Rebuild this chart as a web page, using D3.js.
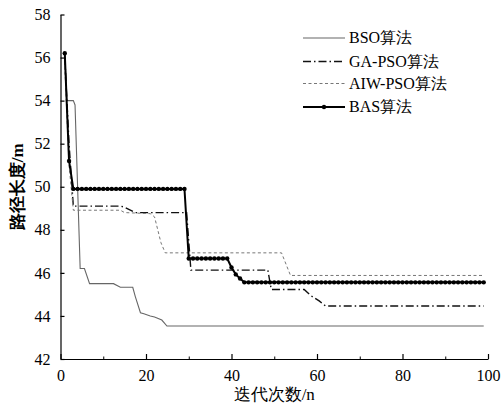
<!DOCTYPE html>
<html>
<head>
<meta charset="utf-8">
<script src="https://cdn.jsdelivr.net/npm/d3@7"></script>
<style>
  body { margin: 0; background: #fff; }
  svg text { font-family: "Liberation Serif", "DejaVu Serif", serif; }
</style>
</head>
<body>
<div id="chart"></div>
<script>
// data (iteration, path length)
let bsoPts = [[1,56.2],[1.5,54.0],[3,54.0],[3.4,53.8],[4.6,46.2],[5.6,46.2],[6.8,45.5],[12.4,45.5],[14,45.33],[16.9,45.33],[17.5,44.9],[18.7,44.15],[19.5,44.1],[21,44.0],[22,43.95],[23.7,43.81],[24.9,43.53],[99,43.53]]
let gaPts = [[1,56.0],[2,52.0],[3,49.1],[14,49.1],[15,49.05],[17.5,48.8],[29.5,48.8],[30.5,46.13],[48.5,46.13],[49.3,45.23],[57,45.23],[58.5,44.95],[60.5,44.7],[62,44.46],[99,44.46]]
let aiwPts = [[1,55.6],[2,51.0],[3,48.91],[14,48.91],[15,48.8],[21,48.75],[22,48.6],[23.5,47.4],[24.5,46.93],[51.7,46.93],[53.8,45.88],[99,45.88]]
let basVals = [56.2, 51.2,
  49.9, 49.9, 49.9, 49.9, 49.9, 49.9, 49.9, 49.9, 49.9, 49.9, 49.9, 49.9, 49.9, 49.9,
  49.9, 49.9, 49.9, 49.9, 49.9, 49.9, 49.9, 49.9, 49.9, 49.9, 49.9, 49.9, 49.9,
  46.67, 46.67, 46.67, 46.67, 46.67, 46.67, 46.67, 46.67, 46.67, 46.67,
  46.25, 45.93, 45.74,
  45.56, 45.56, 45.56, 45.56, 45.56, 45.56, 45.56, 45.56, 45.56, 45.56,
  45.56, 45.56, 45.56, 45.56, 45.56, 45.56, 45.56, 45.56, 45.56, 45.56,
  45.56, 45.56, 45.56, 45.56, 45.56, 45.56, 45.56, 45.56, 45.56, 45.56,
  45.56, 45.56, 45.56, 45.56, 45.56, 45.56, 45.56, 45.56, 45.56, 45.56,
  45.56, 45.56, 45.56, 45.56, 45.56, 45.56, 45.56, 45.56, 45.56, 45.56,
  45.56, 45.56, 45.56, 45.56, 45.56, 45.56, 45.56]
let seriesNames = ["BSO算法", "GA-PSO算法", "AIW-PSO算法", "BAS算法"]
let xTicks = [0, 20, 40, 60, 80, 100]
let xMinor = [10, 30, 50, 70, 90]
let yTicks = [42, 44, 46, 48, 50, 52, 54, 56, 58]

let width = 501
let height = 405
let margin = {top: 14.5, bottom: 46, left: 60.5, right: 13}

let svg = d3.select("#chart").append("svg")
    .attr("width", width)
    .attr("height", height)

let xScale = d3.scaleLinear().domain([0, 100]).range([margin.left, width - margin.right])
let yScale = d3.scaleLinear().domain([42, 58]).range([height - margin.bottom, margin.top])

let basPts = basVals.map((v, i) => [i + 1, v])

let styles = [
    {pts: bsoPts, color: "#666", w: 1.1, dash: null},
    {pts: gaPts, color: "#111", w: 1.4, dash: "8,3,1.5,3"},
    {pts: aiwPts, color: "#777", w: 1, dash: "3,2.5"},
    {pts: basPts, color: "#000", w: 2, dash: null}
]

let line = d3.line().x(d => xScale(d[0])).y(d => yScale(d[1]))

styles.forEach(s => {
    svg.append("path")
        .datum(s.pts)
        .attr("d", line)
        .attr("fill", "none")
        .attr("stroke", s.color)
        .attr("stroke-width", s.w)
        .attr("stroke-dasharray", s.dash)
})

svg.append("g").selectAll("circle")
    .data(basPts)
    .enter()
    .append("circle")
    .attr("cx", d => xScale(d[0]))
    .attr("cy", d => yScale(d[1]))
    .attr("r", 2.2)
    .attr("fill", "#000")

// axes, ticks pointing inward
let xAxis = svg.append("g")
    .attr("transform", "translate(0," + yScale(42) + ")")
    .call(d3.axisBottom(xScale).tickValues(xTicks).tickSizeInner(-5).tickSizeOuter(0).tickPadding(8))
xAxis.selectAll("text").attr("font-size", 16).attr("fill", "#000").attr("dy", "0.85em")
xAxis.selectAll("path, line").attr("stroke", "#000").attr("stroke-width", 1.2)

svg.append("g")
    .attr("transform", "translate(0," + yScale(42) + ")")
    .call(d3.axisBottom(xScale).tickValues(xMinor).tickSize(-2.5).tickFormat(""))
    .call(g => g.select(".domain").remove())
    .selectAll("line").attr("stroke", "#000")

let yAxis = svg.append("g")
    .attr("transform", "translate(" + margin.left + ",0)")
    .call(d3.axisLeft(yScale).tickValues(yTicks).tickSizeInner(-4).tickSizeOuter(0).tickPadding(10))
yAxis.selectAll("text").attr("font-size", 16).attr("fill", "#000")
yAxis.selectAll("path, line").attr("stroke", "#000").attr("stroke-width", 1.2)

svg.append("text")
    .attr("x", (margin.left + width - margin.right) / 2)
    .attr("y", 400)
    .attr("text-anchor", "middle")
    .attr("font-size", 17)
    .text("迭代次数/n")

svg.append("text")
    .attr("transform", "translate(23," + ((margin.top + height - margin.bottom) / 2) + ") rotate(-90)")
    .attr("text-anchor", "middle")
    .attr("font-size", 17)
    .attr("font-weight", "bold")
    .text("路径长度/m")

// legend
let legend = svg.append("g")
let legY = [38, 61.5, 83.5, 107]
styles.forEach((s, i) => {
    legend.append("line")
        .attr("x1", 303).attr("x2", 345)
        .attr("y1", legY[i]).attr("y2", legY[i])
        .attr("stroke", s.color)
        .attr("stroke-width", s.w)
        .attr("stroke-dasharray", s.dash)
    legend.append("text")
        .attr("x", 349)
        .attr("y", legY[i] + 5)
        .attr("font-size", 16)
        .text(seriesNames[i])
})
legend.append("circle").attr("cx", 324).attr("cy", legY[3]).attr("r", 2.2).attr("fill", "#000")
</script>
</body>
</html>
